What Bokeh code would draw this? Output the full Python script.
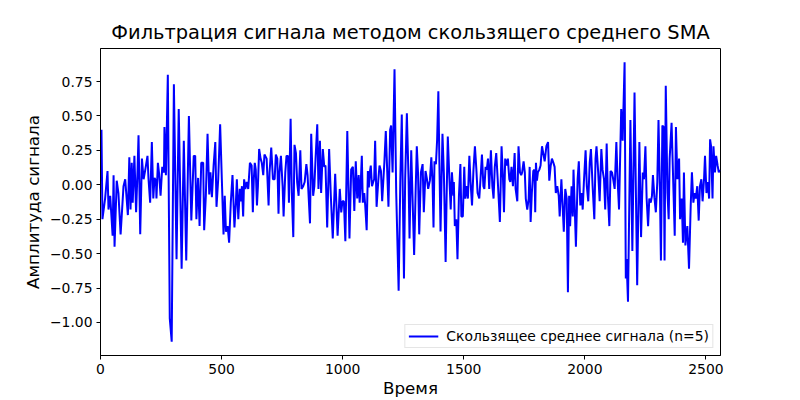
from bokeh.plotting import figure
from bokeh.models import ColumnDataSource, FixedTicker, Range1d, Legend, LegendItem
from bokeh.embed import file_html
from bokeh.resources import INLINE

title_text = "Фильтрация сигнала методом скользящего среднего SMA"
x_label = "Время"
y_label = "Амплитуда сигнала"
legend_label = "Скользящее среднее сигнала (n=5)"

time = [
    4, 8, 19, 29, 33, 40, 50, 54, 58, 67, 74, 83, 95, 102, 113, 119, 124, 129, 133, 140,
    147, 153, 157, 164, 171, 178, 185, 194, 198, 205, 212,
    218, 223, 229, 231, 237, 242, 248, 255, 262, 264, 270, 278, 286, 294, 303, 314, 323, 335, 344,
    354, 365, 375, 385, 391, 396, 403, 409, 416, 424, 428,
    435, 442, 449, 454, 460, 467, 474, 479, 486, 494, 501, 508, 513, 518, 525, 531, 538, 545, 553,
    559, 563, 569, 575, 580, 584, 589, 593, 598, 604, 610, 617, 624, 629, 633, 637, 641,
    646, 650, 655, 661, 666, 672, 677, 686, 694, 698, 705, 712, 719, 724, 730, 735, 739, 745, 752,
    756, 763, 768, 774, 778, 785, 790, 796, 801, 807, 812, 818, 825, 830, 837, 843, 850, 855,
    865, 870, 878, 883, 888, 895, 900, 906, 911, 918, 924, 929, 936, 944, 951, 959, 969, 979, 988,
    994, 999, 1005, 1011, 1019, 1028, 1035, 1042, 1048, 1054, 1060,
    1066, 1070, 1074, 1079, 1083, 1089, 1093, 1099, 1104, 1108, 1112, 1116, 1121, 1126, 1130, 1134,
    1140, 1147, 1152, 1158, 1163, 1172, 1178, 1184, 1189, 1196, 1200, 1206, 1214, 1221, 1231, 1238,
    1244, 1253, 1258, 1265, 1272, 1276, 1283,
    1295, 1301, 1306, 1311, 1316, 1323, 1330, 1335, 1342, 1348, 1353, 1360, 1366, 1371, 1375, 1379,
    1385, 1390, 1395, 1400, 1404, 1412, 1418, 1425, 1429, 1434, 1440, 1446, 1451, 1457, 1459, 1463,
    1469, 1474, 1480, 1486, 1490, 1496,
    1502, 1506, 1512, 1517, 1523, 1528, 1534, 1540, 1546, 1552, 1557, 1564, 1569, 1575, 1581, 1585,
    1590, 1595, 1600, 1605, 1612, 1618, 1623, 1628, 1634, 1640, 1645, 1649, 1656, 1662, 1666, 1671,
    1677, 1682, 1688, 1692, 1697, 1703, 1710, 1714,
    1721, 1726, 1732, 1737, 1741, 1747, 1752, 1756, 1762, 1768, 1772, 1776, 1781, 1787, 1792, 1795,
    1798, 1802, 1806, 1812, 1817, 1823, 1828, 1834, 1841, 1848, 1853, 1859, 1864, 1870, 1875, 1880,
    1886, 1892, 1896, 1903, 1908, 1913, 1919, 1925, 1930,
    1935, 1939, 1945, 1950, 1953, 1957, 1963, 1970, 1975, 1981, 1987, 1991, 1996, 2003, 2008, 2014,
    2020, 2025, 2032, 2039, 2044, 2048, 2055, 2061, 2068, 2073, 2079, 2084, 2090, 2095, 2101, 2106,
    2112, 2117, 2123, 2130, 2135, 2141,
    2150, 2156, 2164, 2169, 2172, 2178, 2188, 2196, 2205, 2216, 2225, 2232, 2239, 2244, 2250, 2255,
    2261, 2266, 2272, 2277, 2281, 2287, 2293, 2299, 2304, 2310, 2314, 2320, 2325, 2329, 2334, 2341,
    2346, 2350, 2358,
    2371, 2376, 2382, 2389, 2393, 2400, 2405, 2409, 2415, 2423, 2430, 2437, 2442, 2448, 2453, 2458,
    2464, 2470, 2475, 2481, 2486, 2492, 2496, 2502, 2508, 2513, 2517, 2521, 2527, 2531, 2537, 2542,
    2548, 2553, 2556,
]

amplitude = [
    0.40, -0.25, -0.10, 0.10, -0.18, -0.08, -0.37, 0.07, -0.45, 0.03, -0.06, -0.36, -0.01, 0.04, -0.22, 0.20, -0.18, 0.16, -0.13, 0.21,
    -0.20, 0.11, 0.36, -0.36, 0.19, 0.04, 0.11, 0.21, 0.05, -0.13, 0.31,
    -0.10, 0.05, 0.03, -0.10, 0.16, 0.08, -0.08, 0.13, 0.09, 0.42, 0.07, 0.80, -0.97, -1.14, 0.73, -0.54, 0.55, -0.61, 0.32,
    -0.55, 0.50, -0.26, 0.21, 0.21, -0.25, 0.05, -0.30, 0.16, 0.16, -0.33,
    -0.08, 0.37, -0.07, 0.09, -0.09, 0.14, 0.31, -0.16, 0.04, 0.44, 0.04, -0.36, -0.08, -0.34, -0.30, -0.42, -0.13, 0.07, -0.31,
    -0.13, 0.04, -0.25, -0.03, -0.12, -0.01, -0.23, 0.04, -0.03, 0.02, -0.03, 0.16, 0.14, -0.20, 0.04, 0.16, 0.11,
    -0.15, -0.01, 0.26, 0.19, 0.16, 0.07, 0.22, 0.19, -0.15, 0.09, 0.27, 0.04, 0.04, 0.22, 0.19, -0.21, 0.09, 0.21, -0.01,
    -0.23, 0.09, 0.21, 0.21, -0.13, 0.48, -0.06, -0.38, 0.29, 0.23, 0.02, -0.08, 0.25, -0.03, -0.01, 0.02, 0.15, 0.07,
    -0.28, 0.37, -0.08, -0.01, 0.19, 0.44, -0.03, 0.32, -0.06, 0.26, 0.13, 0.14, -0.31, 0.26, -0.08, -0.39, 0.08, -0.37, -0.03,
    -0.20, -0.12, -0.12, -0.41, 0.39, -0.39, 0.11, 0.13, -0.19, 0.17, -0.10,
    0.07, -0.13, -0.01, 0.21, -0.13, -0.06, -0.15, -0.33, 0.10, -0.02, 0.09, 0.14, -0.01, 0.02, 0.04, 0.32,
    -0.16, 0.03, 0.14, 0.10, -0.12, 0.16, 0.39, 0.09, -0.16, 0.40, 0.43, 0.09, 0.84, -0.06, -0.77, 0.04,
    0.51, -0.68, 0.04, 0.52, 0.04, -0.39, 0.25,
    -0.51, -0.06, 0.28, 0.09, -0.36, 0.09, 0.15, -0.20, 0.10, 0.04, -0.03, 0.03, 0.20, 0.02, -0.31, 0.17,
    0.15, 0.33, 0.68, 0.08, -0.34, 0.37, 0.07, -0.56, -0.10, 0.35, 0.07, -0.18, 0.09, -0.08, 0.02, -0.30,
    -0.25, -0.54, -0.08, 0.15, -0.23, -0.23,
    0.13, -0.10, -0.01, -0.10, 0.21, 0.02, -0.15, 0.11, 0.28, 0.11, -0.06, -0.10, 0.04, 0.22, -0.01, -0.03,
    0.13, 0.11, 0.19, -0.03, 0.25, -0.01, -0.10, 0.13, 0.23, 0.04, -0.13, -0.27, 0.28, 0.04, -0.20, 0.19,
    0.14, 0.19, 0.04, 0.02, 0.13, -0.01, 0.23, -0.03,
    -0.12, 0.28, 0.09, 0.07, 0.09, 0.17, 0.09, -0.10, -0.18, -0.10, 0.13, -0.27, -0.06, 0.10, 0.11, -0.20,
    0.16, 0.03, 0.09, 0.11, 0.14, 0.28, 0.23, 0.17, 0.28, 0.31, 0.03, 0.14, 0.19, 0.16, 0.13, -0.06,
    -0.01, -0.08, -0.23, 0.04, -0.15, -0.34, -0.03, -0.10, -0.78,
    -0.08, -0.30, -0.01, -0.23, 0.11, -0.10, -0.45, 0.04, 0.17, -0.15, -0.06, -0.18, 0.02, 0.25, -0.01, -0.12,
    0.16, 0.26, -0.01, -0.25, 0.19, 0.28, 0.09, -0.12, 0.26, 0.11, 0.04, -0.18, 0.30, -0.08, -0.30, 0.10,
    0.09, 0.04, -0.03, 0.31, 0.04, -0.18,
    0.55, 0.32, 0.89, -0.68, -0.54, -0.85, 0.47, -0.48, 0.67, -0.73, 0.31, -0.38, 0.09, 0.04, 0.28, -0.10,
    -0.30, -0.10, -0.13, -0.08, 0.07, -0.09, -0.20, 0.02, 0.47, -0.06, -0.55, 0.43, 0.42, -0.55, 0.72, -0.06,
    -0.25, 0.19, 0.45,
    -0.37, 0.42, 0.04, 0.19, -0.25, -0.10, -0.42, 0.09, -0.44, -0.30, -0.61, -0.15, 0.09, -0.13, -0.06, -0.10,
    -0.01, -0.26, -0.01, 0.04, -0.12, 0.04, 0.21, -0.06, 0.02, -0.10, 0.33, 0.28, -0.10, 0.28, 0.09, 0.21,
    0.14, 0.09, 0.11,
]

x_ticks = [0, 500, 1000, 1500, 2000, 2500]
y_ticks = [-1.0, -0.75, -0.5, -0.25, 0.0, 0.25, 0.5, 0.75]
y_tick_labels = ["−1.00", "−0.75", "−0.50", "−0.25", "0.00", "0.25", "0.50", "0.75"]

FONT = "DejaVu Sans"

src = ColumnDataSource(data=dict(t=time, a=amplitude))

p = figure(
    width=800, height=400,
    output_backend="svg", toolbar_location=None,
    x_range=Range1d(0, 2560), y_range=Range1d(-1.24, 0.99),
    min_border_left=100, min_border_right=80,
    min_border_top=48, min_border_bottom=45,
    background_fill_color="white", border_fill_color="white",
)

p.title.text = title_text
p.title.align = "center"
p.title.text_font = FONT
p.title.text_font_size = "19.4px"
p.title.text_font_style = "normal"
p.title.text_color = "black"

r = p.line("t", "a", source=src, line_color="#0000ff", line_width=2)

p.xgrid.grid_line_color = None
p.ygrid.grid_line_color = None
p.outline_line_color = "black"
p.outline_line_alpha = 1
p.outline_line_width = 1

p.xaxis.ticker = FixedTicker(ticks=x_ticks)
p.yaxis.ticker = FixedTicker(ticks=y_ticks)
p.yaxis.major_label_overrides = {v: s for v, s in zip(y_ticks, y_tick_labels)}
p.xaxis.axis_label = x_label
p.yaxis.axis_label = y_label

for ax in (p.xaxis[0], p.yaxis[0]):
    ax.axis_line_color = "black"
    ax.major_tick_line_color = "black"
    ax.minor_tick_line_color = None
    ax.major_tick_out = 4
    ax.major_tick_in = 0
    ax.major_label_text_font = FONT
    ax.major_label_text_font_size = "13.9px"
    ax.major_label_text_color = "black"
    ax.major_label_standoff = 4
    ax.axis_label_text_font = FONT
    ax.axis_label_text_font_size = "16.7px"
    ax.axis_label_text_font_style = "normal"
    ax.axis_label_text_color = "black"
    ax.axis_label_standoff = 4

p.xaxis[0].axis_label_standoff = 1

legend = Legend(items=[LegendItem(label=legend_label, renderers=[r])], location="bottom_right")
legend.label_text_font = FONT
legend.label_text_font_size = "13.9px"
legend.label_text_color = "black"
legend.border_line_color = "#cccccc"
legend.border_line_width = 1
legend.background_fill_color = "white"
legend.background_fill_alpha = 0.8
legend.padding = 3
legend.margin = 7
legend.spacing = 0
legend.glyph_width = 30
legend.glyph_height = 16
legend.label_height = 16
legend.label_standoff = 8
p.add_layout(legend)

open("out.html", "w").write(file_html(p, INLINE))
